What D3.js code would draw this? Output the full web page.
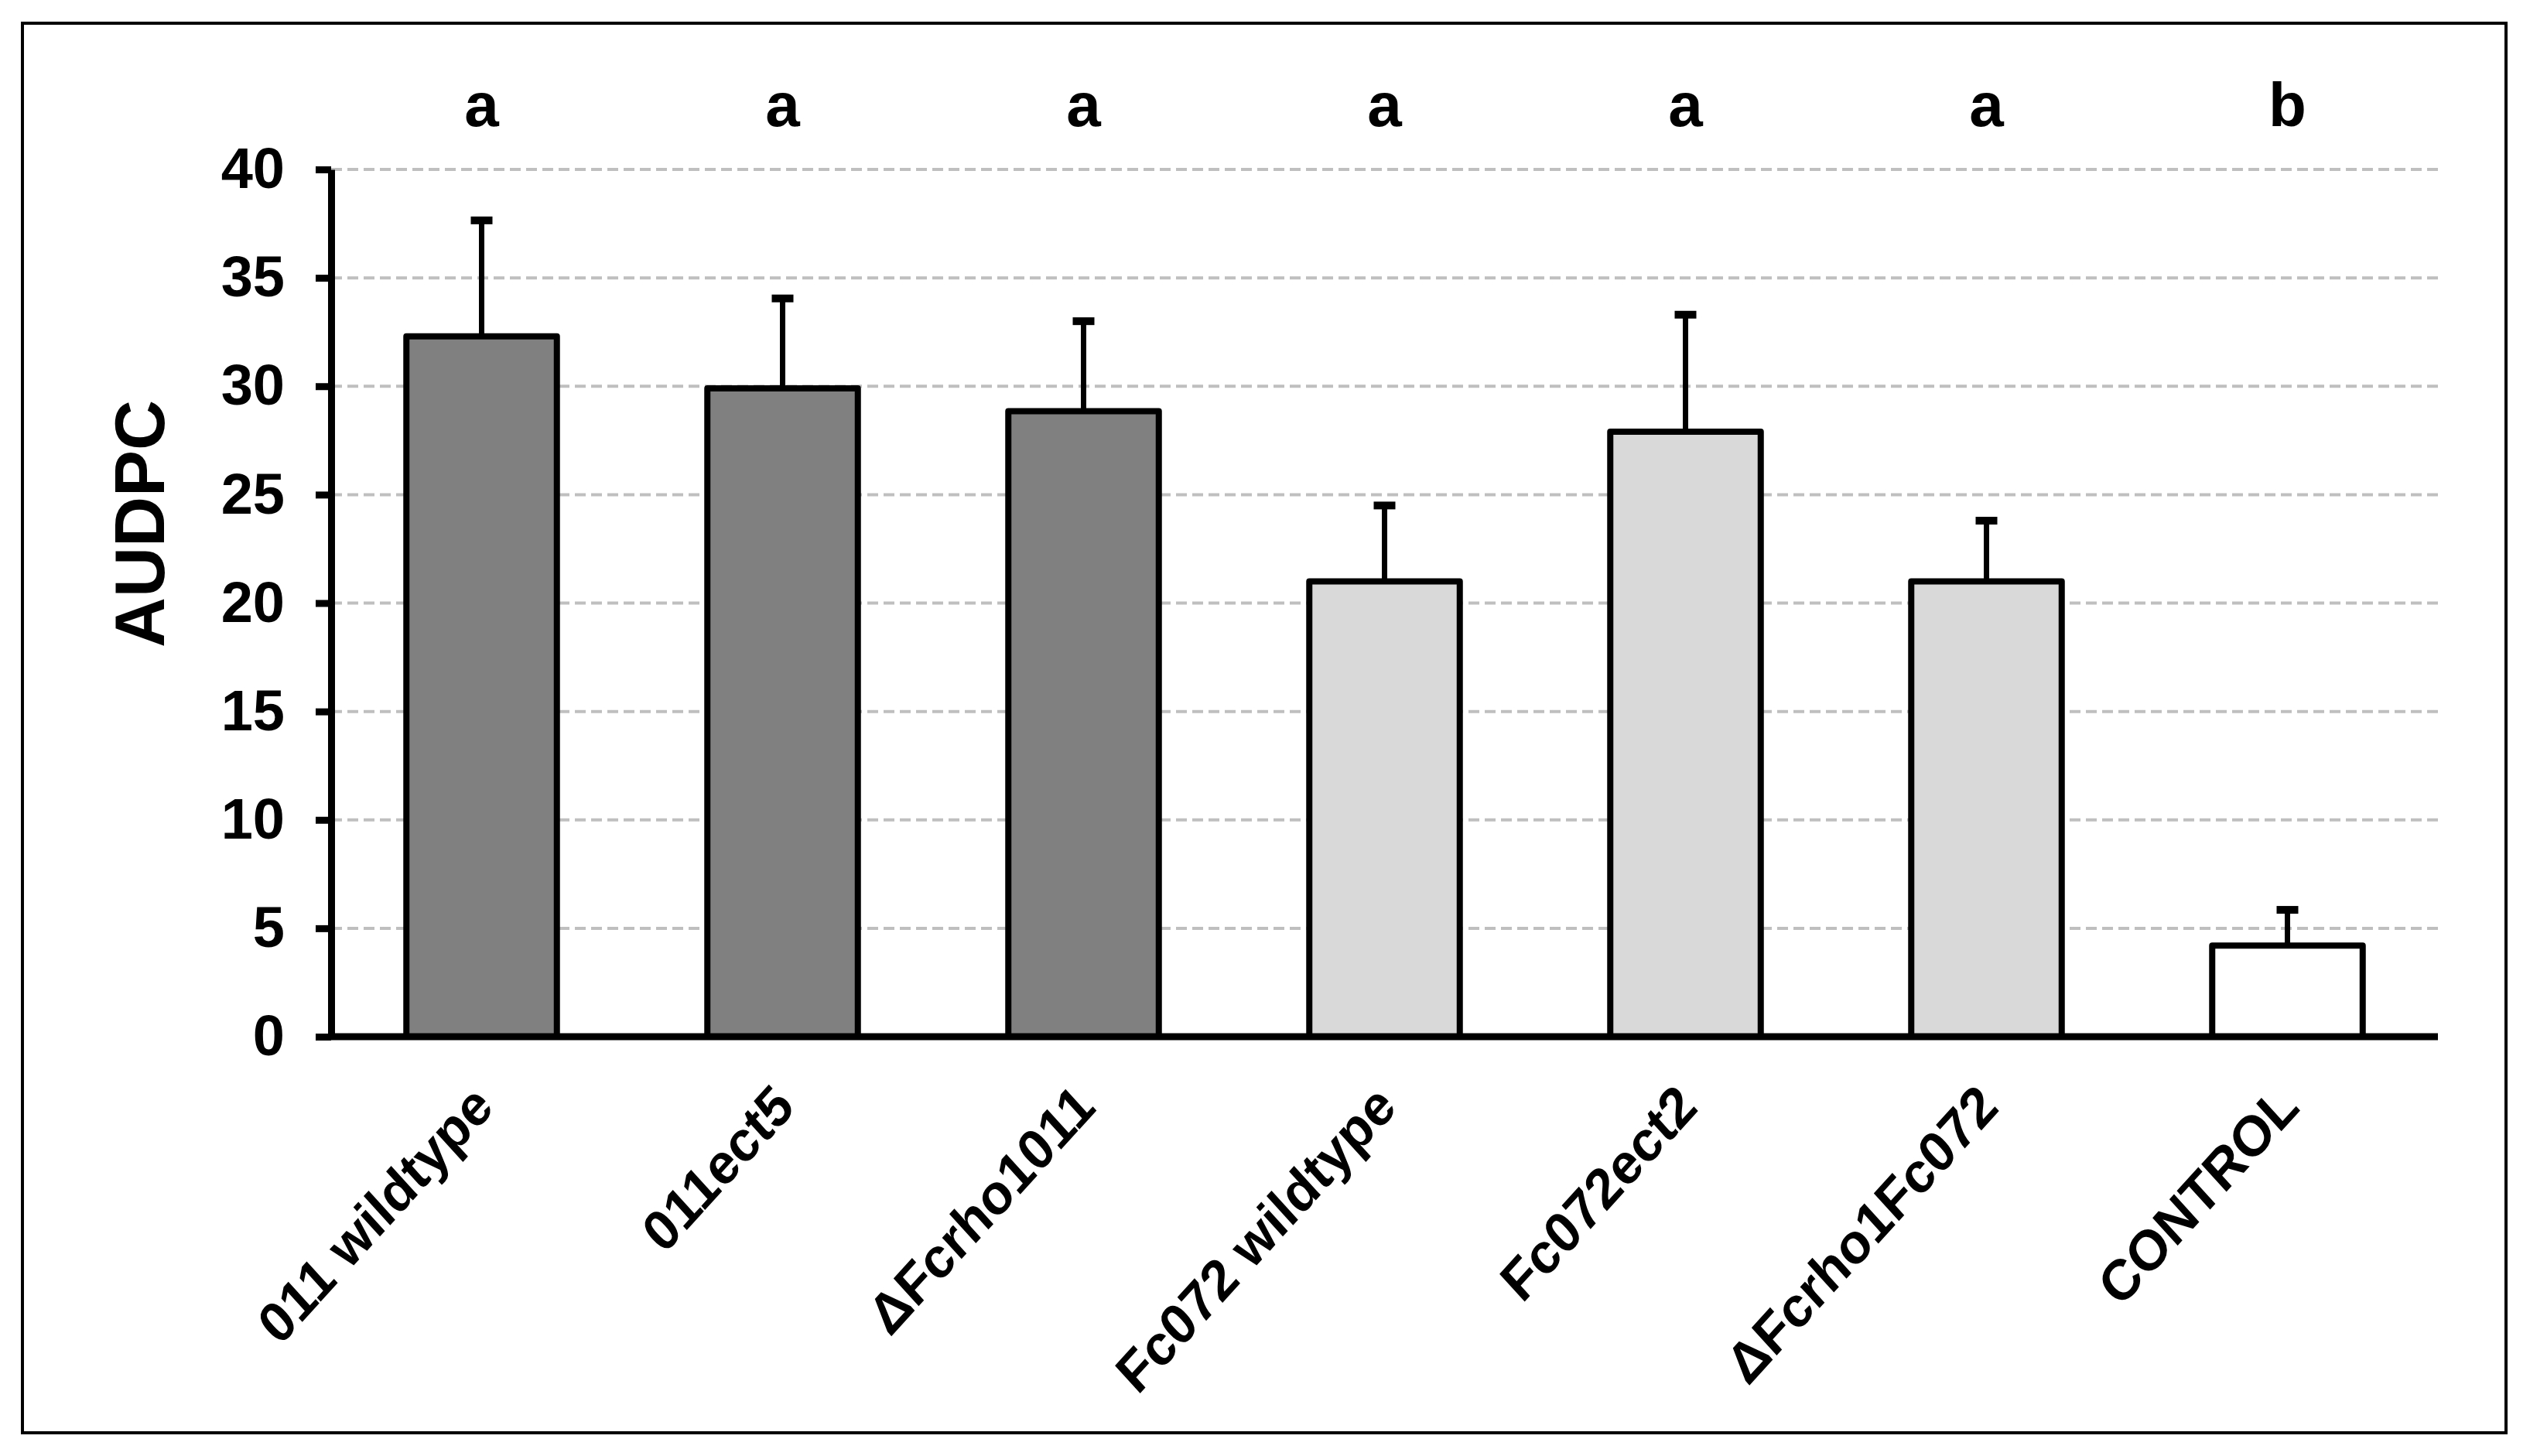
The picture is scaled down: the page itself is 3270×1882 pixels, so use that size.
<!DOCTYPE html>
<html>
<head>
<meta charset="utf-8">
<script src="https://cdn.jsdelivr.net/npm/d3@7"></script>
<style>
  html, body { margin: 0; padding: 0; background: #fff; }
  svg { display: block; }
  text { font-family: "Liberation Sans", Arial, sans-serif; font-weight: bold; fill: #000; }
</style>
</head>
<body>
<svg id="chart" width="3270" height="1882"></svg>
<script>
// ---- data ----
const categories = ["011 wildtype", "011ect5", "\u0394Fcrho1011", "Fc072 wildtype", "Fc072ect2", "\u0394Fcrho1Fc072", "CONTROL"];
const means      = [32.3, 29.9, 28.85, 21.0, 27.9, 21.0, 4.2];
const errors     = [5.35, 4.15, 4.15, 3.5, 5.4, 2.8, 1.65];
const groups     = ["011", "011", "011", "Fc072", "Fc072", "Fc072", "control"];
const letters    = ["a", "a", "a", "a", "a", "a", "b"];
const yTicks     = [0, 5, 10, 15, 20, 25, 30, 35, 40];
const yLabel     = "AUDPC";

// ---- layout ----
const plotLeft = 428, plotRight = 3151, plotTop = 219, plotBottom = 1340;

const svg = d3.select("#chart");

// outer frame
svg.append("rect")
  .attr("x", 29).attr("y", 30).attr("width", 3210).attr("height", 1822)
  .attr("fill", "#fff").attr("stroke", "#000").attr("stroke-width", 4);

const x = d3.scaleBand().domain(categories).range([plotLeft, plotRight])
  .paddingInner(0.5).paddingOuter(0.25);
const y = d3.scaleLinear().domain([0, 40]).range([plotBottom, plotTop]);

const color = d3.scaleOrdinal().domain(["011", "Fc072", "control"])
  .range(["#808080", "#d9d9d9", "#ffffff"]);

// gridlines
svg.append("g").selectAll("line").data(yTicks.filter(d => d > 0)).join("line")
  .attr("x1", plotLeft).attr("x2", plotRight)
  .attr("y1", d => y(d)).attr("y2", d => y(d))
  .attr("stroke", "#bfbfbf").attr("stroke-width", 4)
  .attr("stroke-dasharray", "14,7");

// y axis
const yAxis = d3.axisLeft(y).tickValues(yTicks).tickSize(20).tickSizeOuter(0).tickPadding(40);
const gy = svg.append("g").attr("transform", `translate(${plotLeft},0)`).call(yAxis);
gy.select(".domain").attr("stroke", "#000").attr("stroke-width", 9);
gy.selectAll(".tick line").attr("stroke", "#000").attr("stroke-width", 9);
gy.selectAll(".tick text")
  .style("font-size", "74px")
  .style("font-family", "'Liberation Sans', Arial, sans-serif")
  .style("font-weight", "bold")
  .attr("fill", "#000");

// error bars (stems + caps)
const eb = svg.append("g");
eb.selectAll("line.stem").data(categories).join("line")
  .attr("class", "stem")
  .attr("x1", d => x(d) + x.bandwidth() / 2).attr("x2", d => x(d) + x.bandwidth() / 2)
  .attr("y1", (d, i) => y(means[i])).attr("y2", (d, i) => y(means[i] + errors[i]))
  .attr("stroke", "#000").attr("stroke-width", 7);
eb.selectAll("line.cap").data(categories).join("line")
  .attr("class", "cap")
  .attr("x1", d => x(d) + x.bandwidth() / 2 - 14).attr("x2", d => x(d) + x.bandwidth() / 2 + 14)
  .attr("y1", (d, i) => y(means[i] + errors[i])).attr("y2", (d, i) => y(means[i] + errors[i]))
  .attr("stroke", "#000").attr("stroke-width", 10);

// bars
svg.append("g").selectAll("rect").data(categories).join("rect")
  .attr("x", d => x(d)).attr("width", x.bandwidth())
  .attr("y", (d, i) => y(means[i])).attr("height", (d, i) => y(0) - y(means[i]))
  .attr("fill", (d, i) => color(groups[i]))
  .attr("stroke", "#000").attr("stroke-width", 8).attr("stroke-linejoin", "round");

// x axis line
svg.append("line")
  .attr("x1", plotLeft).attr("x2", plotRight).attr("y1", y(0)).attr("y2", y(0))
  .attr("stroke", "#000").attr("stroke-width", 9);

// category labels (slightly stretched vertically as in the reference)
svg.append("g").selectAll("text").data(categories).join("text")
  .attr("transform", d => `translate(${x(d) + x.bandwidth() / 2 + 18},${y(0) + 94}) scale(1,1.1) rotate(-45)`)
  .attr("text-anchor", "end")
  .style("font-size", "67px")
  .text(d => d);

// significance letters
svg.append("g").selectAll("text").data(categories).join("text")
  .attr("x", d => x(d) + x.bandwidth() / 2)
  .attr("y", 163)
  .attr("text-anchor", "middle")
  .style("font-size", "80px")
  .text((d, i) => letters[i]);

// y axis title
svg.append("text")
  .attr("transform", "translate(212,677) rotate(-90)")
  .attr("text-anchor", "middle")
  .style("font-size", "90px")
  .text(yLabel);
</script>
</body>
</html>
